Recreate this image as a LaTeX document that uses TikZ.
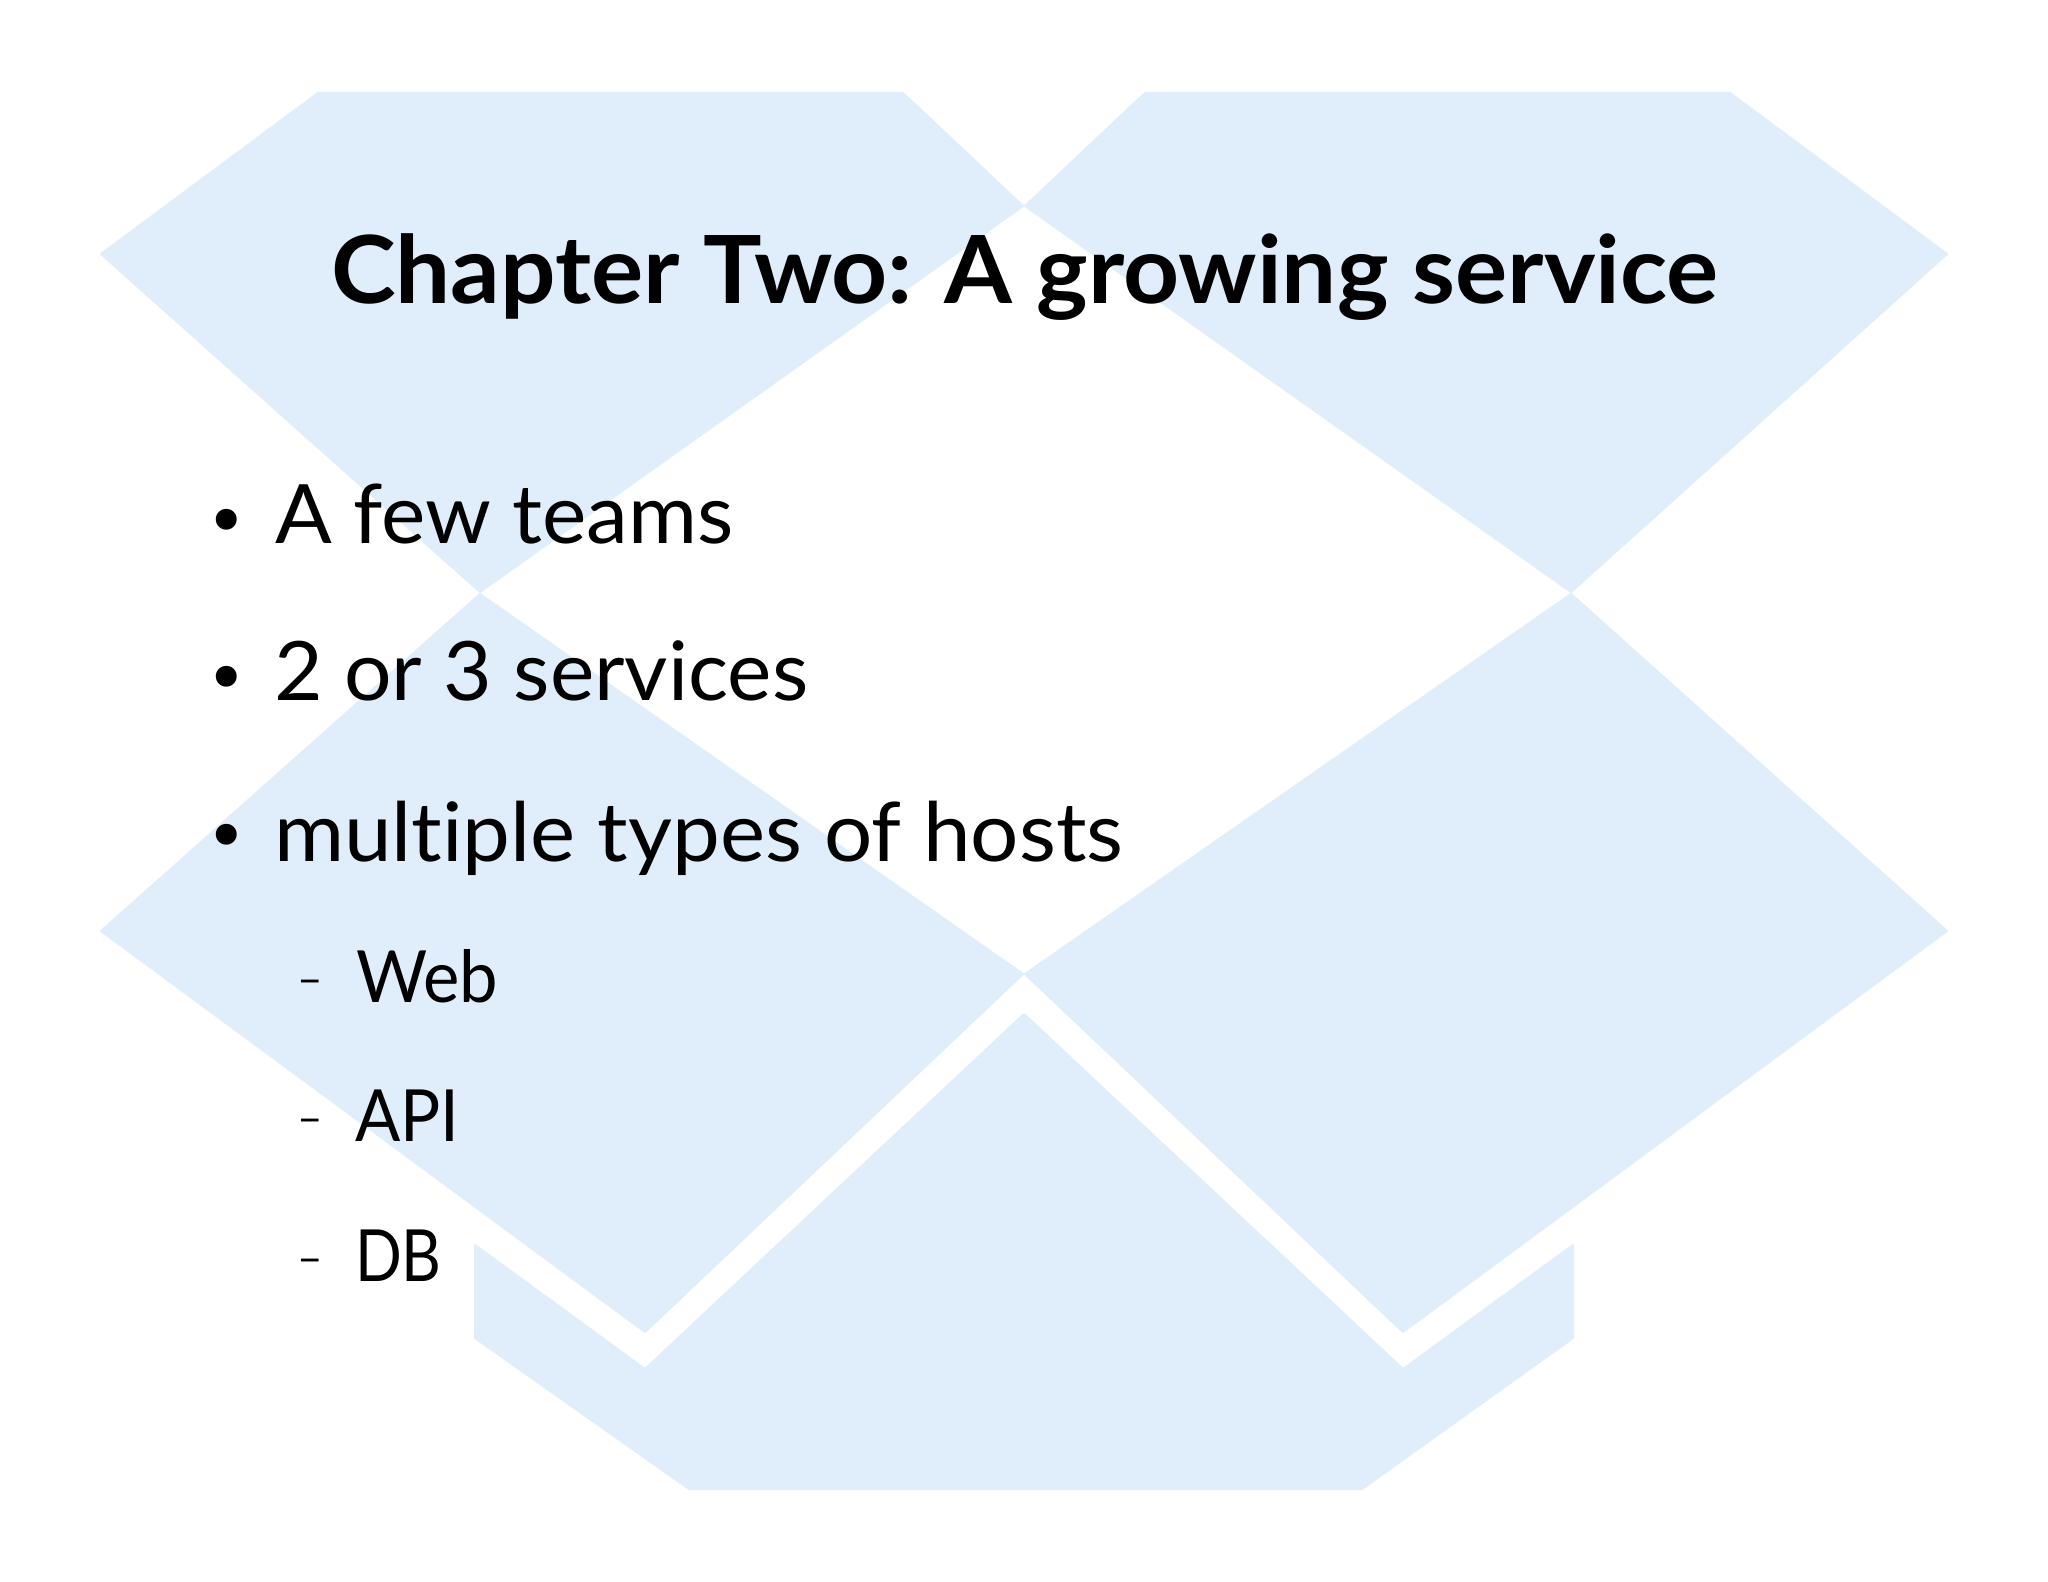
\documentclass[tikz,border=0pt]{standalone}
\usepackage{fontspec}
\usepackage{graphicx}
\setmainfont[Ligatures=NoCommon]{Lato}
\newfontfamily\bulletfont{DejaVu Sans}
\definecolor{boxblue}{HTML}{E0EDFB}
\tikzset{
  flap/.style={fill=boxblue,draw=boxblue,line width=1pt,line join=round},
  txt/.style={anchor=base west,inner sep=0pt,outer sep=0pt,text=black},
  bul/.style={anchor=base,inner sep=0pt,outer sep=0pt,text=black,font=\bulletfont\fontsize{36}{40}\selectfont},
  dsh/.style={anchor=base west,inner sep=0pt,outer sep=0pt,text=black,font=\fontsize{22}{26}\selectfont},
}
\newcommand{\titlesize}{\fontsize{47}{50}\selectfont\bfseries}
\newcommand{\mainsize}{\fontsize{41}{46}\selectfont}
\newcommand{\subsize}{\fontsize{36}{40}\selectfont}
\newcommand{\xs}[2]{\scalebox{#1}[1]{#2}}
\begin{document}
\begin{tikzpicture}[x=0.5pt,y=-0.5pt]
\useasboundingbox (0,0) rectangle (2048,1582);
\fill[white] (0,0) rectangle (2048,1582);
% flaps
\draw[flap] (101,254) -- (318,93) -- (903,93) -- (1023,206) -- (480,592) -- cycle;
\draw[flap] (1947,254) -- (1730,93) -- (1145,93) -- (1025,206) -- (1571,592) -- cycle;
\draw[flap] (101,931) -- (480,594) -- (1023,974) -- (645,1332) -- cycle;
\draw[flap] (1947,931) -- (1571,594) -- (1025,974) -- (1403,1332) -- cycle;
\draw[flap] (1024,1014) -- (1403,1369) -- (1573,1245) -- (1573,1338) -- (1362,1489) -- (689,1489) -- (475,1338) -- (475,1245) -- (645,1369) -- cycle;
% texts
\node[txt] (title) at (331,304) {\titlesize\xs{1.04}{Chapter Two: A growing service}};
\node[bul] (b1) at (227,547) {•};
\node[txt] (t1) at (275,544) {\mainsize\xs{1.023}{A few teams}};
\node[bul] (b2) at (227,703) {•};
\node[txt] (t2) at (274,700) {\mainsize\xs{1.023}{2 or 3 services}};
\node[bul] (b3) at (227,861) {•};
\node[txt] (t3) at (274,861) {\mainsize\xs{1.04}{multiple types of hosts}};
\node[dsh] (d1) at (297.6,994) {–};
\node[txt] (s1) at (356,1002) {\subsize\xs{.955}{Web}};
\node[dsh] (d2) at (297.6,1133) {–};
\node[txt] (s2) at (355,1141) {\subsize\xs{.93}{API}};
\node[dsh] (d3) at (297.6,1273) {–};
\node[txt] (s3) at (355,1281) {\subsize\xs{.855}{DB}};
\end{tikzpicture}
\end{document}
